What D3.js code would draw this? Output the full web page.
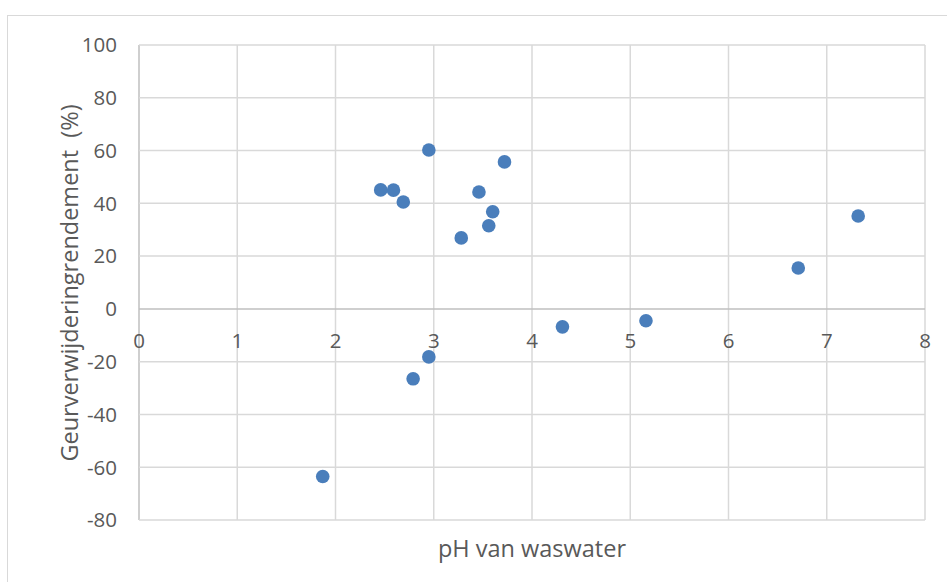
<!DOCTYPE html>
<html><head><meta charset="utf-8">
<script src="https://cdn.jsdelivr.net/npm/d3@7"></script>
<style>body{margin:0;background:#fff;} text{font-family:"Open Sans","Liberation Sans",sans-serif;fill:#595959;}</style>
</head><body>
<svg id="c" width="947" height="582"></svg>
<script>
const phValues = [1.87, 2.46, 2.59, 2.69, 2.79, 2.95, 2.95, 3.28, 3.46, 3.56, 3.60, 3.72, 4.31, 5.16, 6.71, 7.32];
const removalValues = [-63.5, 45.1, 45.0, 40.5, -26.5, 60.2, -18.2, 26.9, 44.3, 31.5, 36.8, 55.7, -6.8, -4.5, 15.5, 35.2];
const xTicks = [0,1,2,3,4,5,6,7,8];
const yTicks = [-80,-60,-40,-20,0,20,40,60,80,100];
const xTitle = "pH van waswater";
const yTitle = "Geurverwijderingrendement  (%)";

const svg = d3.select("#c");
svg.append("rect").attr("x",7.5).attr("y",15.5).attr("width",960).attr("height",600)
  .attr("fill","none").attr("stroke","#d9d9d9").attr("stroke-width",1);
const L=139,R=925,T=45,B=520;
const x = d3.scaleLinear().domain([0,8]).range([L,R]);
const y = d3.scaleLinear().domain([-80,100]).range([B,T]);

const g = svg.append("g");
g.selectAll(".vg").data(xTicks).join("line").attr("x1",d=>x(d)).attr("x2",d=>x(d))
  .attr("y1",T).attr("y2",B).attr("stroke",d=>d===0?"#bfbfbf":"#d9d9d9").attr("stroke-width",1.5);
g.selectAll(".hg").data(yTicks).join("line").attr("x1",L).attr("x2",R)
  .attr("y1",d=>y(d)).attr("y2",d=>y(d)).attr("stroke",d=>d===0?"#bfbfbf":"#d9d9d9").attr("stroke-width",1.5);

g.selectAll(".yl").data(yTicks).join("text").attr("x",L-22).attr("y",d=>y(d)).attr("dy","0.36em")
  .attr("text-anchor","end").attr("font-size",20.5).text(d=>d);
g.selectAll(".xl").data(xTicks).join("text").attr("x",d=>x(d)).attr("y",y(0)+39)
  .attr("text-anchor","middle").attr("font-size",20.5).text(d=>d);

g.selectAll("circle").data(phValues).join("circle")
  .attr("cx",d=>x(d)).attr("cy",(d,i)=>y(removalValues[i])).attr("r",6.8).attr("fill","#4A7EBB");

svg.append("text").attr("x",(L+R)/2).attr("y",557).attr("text-anchor","middle").attr("font-size",23.5).text(xTitle);
svg.append("text").attr("transform",`translate(78,283) rotate(-90)`).attr("text-anchor","middle")
  .attr("font-size",23.5).attr("xml:space","preserve").style("white-space","pre").text(yTitle);
</script>
</body></html>
